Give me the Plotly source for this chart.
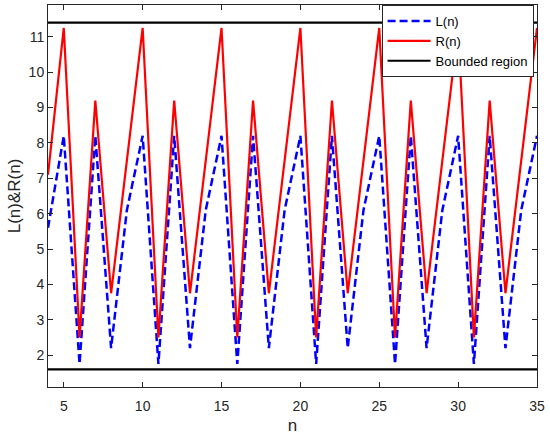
import plotly.graph_objects as go

# sequence index and the two sequences
n = list(range(4, 36))
L_n = [5.6, 8.2, 1.75, 8.2, 2.2,
       6.1, 8.2, 1.75, 8.2, 2.2,
       6.1, 8.2, 1.75, 8.2, 2.2,
       6.1, 8.2, 1.75, 8.2, 2.2,
       6.1, 8.2, 1.75, 8.2, 2.2,
       6.1, 8.2, 1.75, 8.2, 2.2,
       6.1, 8.2]
R_n = [7.1, 11.25, 2.5, 9.2, 3.75,
       7.5, 11.25, 2.5, 9.2, 3.75,
       7.5, 11.25, 2.5, 9.2, 3.75,
       7.5, 11.25, 2.5, 9.2, 3.75,
       7.5, 11.25, 2.5, 9.2, 3.75,
       7.5, 11.25, 2.5, 9.2, 3.75,
       7.5, 11.25]

# bounded region limits
bound_low = 1.6
bound_high = 11.4
x_ticks = [5, 10, 15, 20, 25, 30, 35]
y_ticks = [2, 3, 4, 5, 6, 7, 8, 9, 10, 11]

axcol = "#262626"
fnt = "Liberation Sans, Arial, sans-serif"

fig = go.Figure()
fig.add_trace(go.Scatter(x=n, y=L_n, mode="lines", name="L(n)",
                         line=dict(color="#0000ff", width=2.5, dash="8px,4px")))
fig.add_trace(go.Scatter(x=n, y=R_n, mode="lines", name="R(n)",
                         line=dict(color="#ff0000", width=2.2)))
fig.add_trace(go.Scatter(x=[n[0], n[-1], None, n[0], n[-1]],
                         y=[bound_high, bound_high, None, bound_low, bound_low],
                         mode="lines", name="Bounded region",
                         line=dict(color="black", width=2.2)))

fig.update_layout(
    template="none",
    width=550, height=435,
    margin=dict(l=48, r=13, t=5, b=48),
    plot_bgcolor="white", paper_bgcolor="white",
    font=dict(family=fnt, size=14, color=axcol),
    legend=dict(x=0.993, y=1, xanchor="right", yanchor="top",
                bordercolor=axcol, borderwidth=1, bgcolor="white",
                font=dict(size=13, color="black"),
                tracegroupgap=0, itemwidth=43),
)
fig.update_xaxes(range=[4, 35], tickvals=x_ticks, showgrid=False, zeroline=False,
                 showline=True, linecolor=axcol, linewidth=1, mirror="ticks",
                 ticks="inside", ticklen=5, tickcolor=axcol, automargin=False,
                 ticklabelstandoff=6,
                 title=dict(text="n", standoff=6))
fig.update_yaxes(range=[1.1, 11.9], tickvals=y_ticks, showgrid=False, zeroline=False,
                 showline=True, linecolor=axcol, linewidth=1, mirror="ticks",
                 ticks="inside", ticklen=5, tickcolor=axcol, automargin=False,
                 title=dict(text="L(n)&R(n)", standoff=3))

# drop the page's default body margin so the figure sits at the window corner
fig.write_html("out.html", config={"displayModeBar": False},
               post_script="document.body.style.margin='0';")
